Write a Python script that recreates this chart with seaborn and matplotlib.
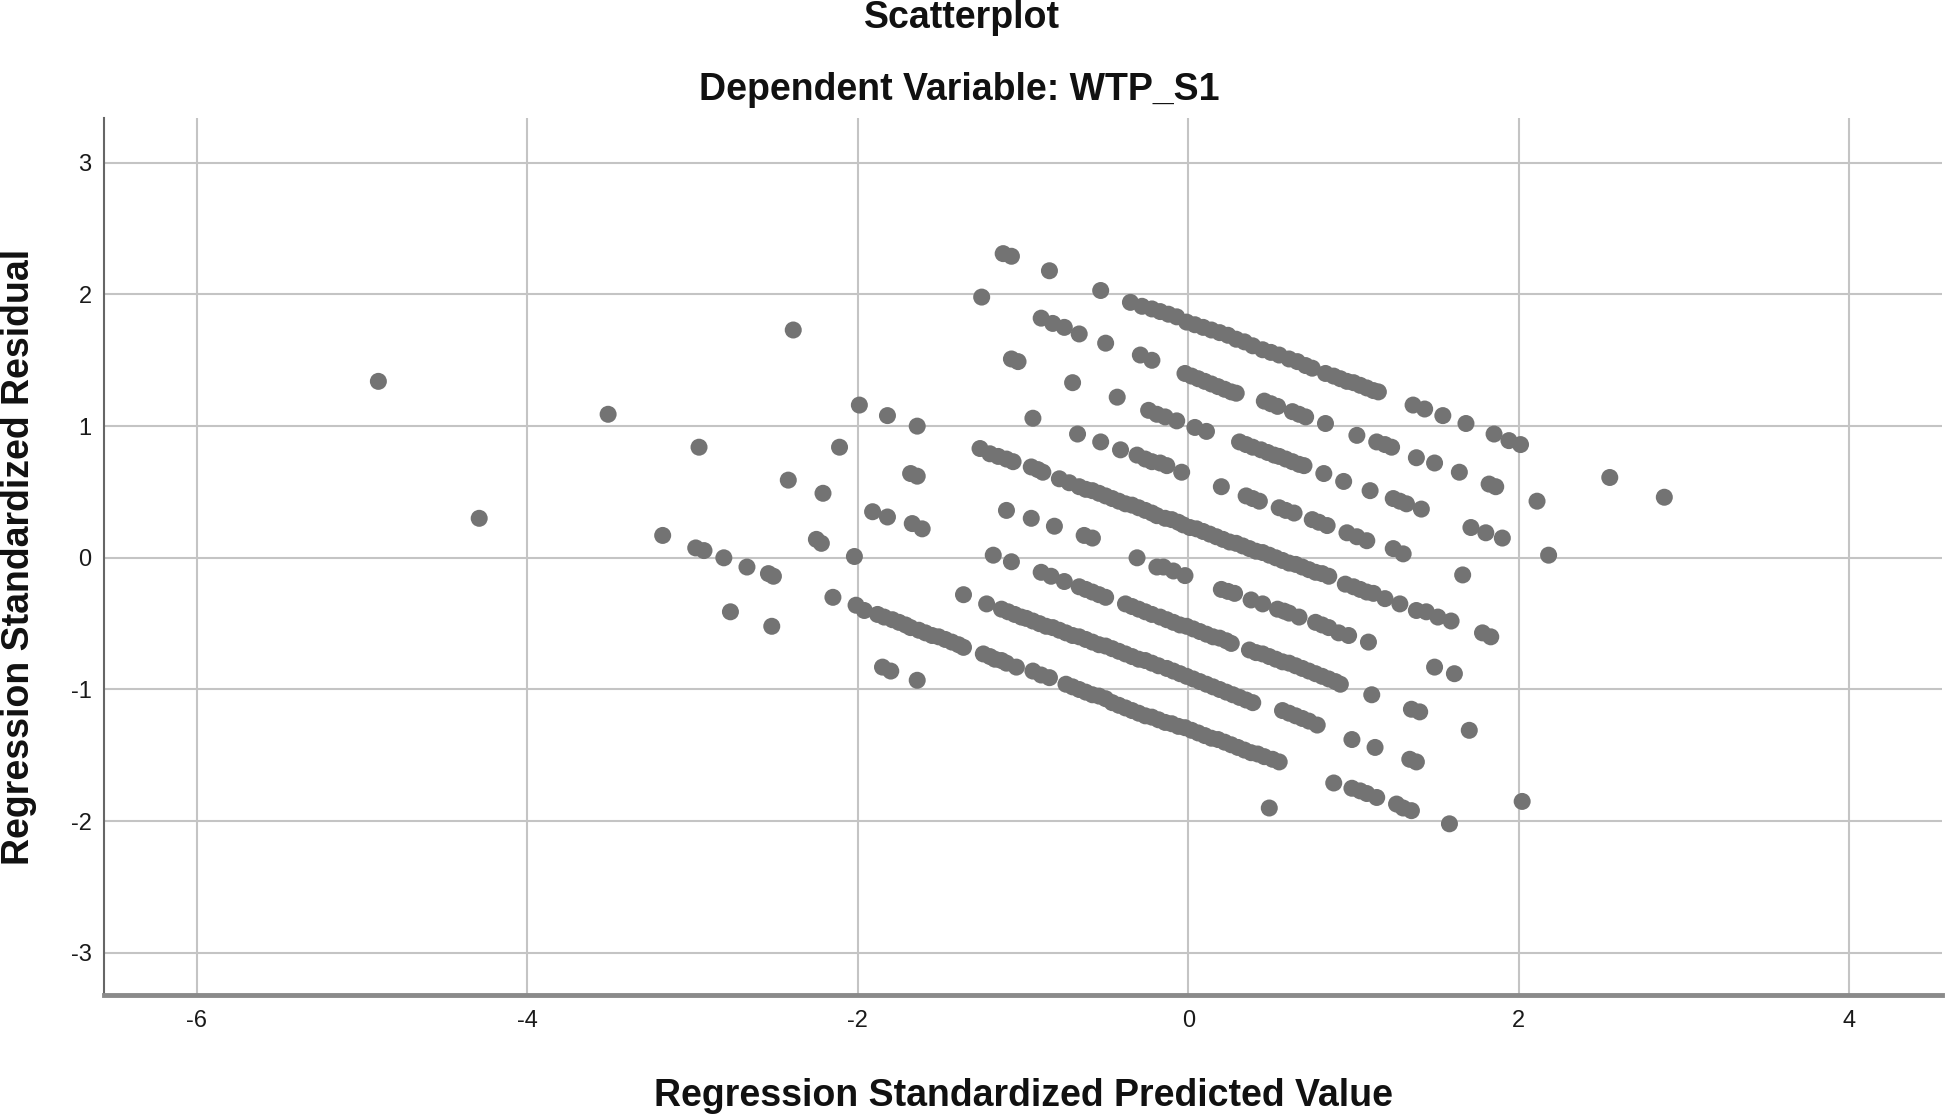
import matplotlib
matplotlib.use("Agg")
import matplotlib.pyplot as plt
import seaborn as sns
import pandas as pd

# ---- data: (standardized predicted value, standardized residual), grouped by diagonal band ----
band_1 = [(-1.12, 2.31), (-1.07, 2.29), (-0.84, 2.18), (-0.53, 2.03), (-0.35, 1.94), (-0.28, 1.91),
          (-0.22, 1.89), (-0.17, 1.87), (-0.12, 1.85), (-0.07, 1.83), (-0.01, 1.79), (0.04, 1.77),
          (0.09, 1.75), (0.14, 1.73), (0.19, 1.71), (0.24, 1.69), (0.29, 1.66), (0.34, 1.64),
          (0.39, 1.61), (0.45, 1.58), (0.50, 1.56), (0.55, 1.54), (0.61, 1.51), (0.66, 1.49),
          (0.71, 1.46), (0.75, 1.44), (0.83, 1.40), (0.88, 1.38), (0.92, 1.36), (0.96, 1.34),
          (1.00, 1.33), (1.04, 1.31), (1.08, 1.29), (1.12, 1.27), (1.15, 1.26), (1.36, 1.16),
          (1.43, 1.13), (1.54, 1.08), (1.68, 1.02), (1.85, 0.94), (1.94, 0.89), (2.01, 0.86),
          (2.55, 0.61), (2.88, 0.46)]
band_2 = [(-1.25, 1.98), (-0.89, 1.82), (-0.82, 1.78), (-0.75, 1.75), (-0.66, 1.70), (-0.50, 1.63),
          (-0.29, 1.54), (-0.22, 1.50), (-0.02, 1.40), (0.02, 1.38), (0.06, 1.36), (0.10, 1.34),
          (0.14, 1.32), (0.18, 1.30), (0.22, 1.28), (0.26, 1.26), (0.29, 1.25), (0.46, 1.19),
          (0.50, 1.17), (0.54, 1.15), (0.63, 1.11), (0.67, 1.09), (0.71, 1.07), (0.83, 1.02),
          (1.02, 0.93), (1.14, 0.88), (1.19, 0.86), (1.23, 0.84), (1.38, 0.76), (1.49, 0.72),
          (1.64, 0.65), (1.82, 0.56), (1.86, 0.54), (2.11, 0.43)]
band_3 = [(-1.07, 1.51), (-1.03, 1.49), (-0.70, 1.33), (-0.43, 1.22), (-0.24, 1.12), (-0.19, 1.09),
          (-0.14, 1.07), (-0.07, 1.04), (0.04, 0.99), (0.11, 0.96), (0.31, 0.88), (0.35, 0.86),
          (0.39, 0.84), (0.44, 0.82), (0.48, 0.80), (0.52, 0.78), (0.55, 0.77), (0.59, 0.75),
          (0.63, 0.73), (0.67, 0.71), (0.70, 0.70), (0.82, 0.64), (0.94, 0.58), (1.10, 0.51),
          (1.24, 0.45), (1.28, 0.43), (1.32, 0.41), (1.41, 0.37), (1.71, 0.23), (1.80, 0.19),
          (1.90, 0.15), (2.18, 0.02)]
band_4 = [(-2.39, 1.73), (-0.94, 1.06), (-0.67, 0.94), (-0.53, 0.88), (-0.41, 0.82), (-0.31, 0.78),
          (-0.26, 0.75), (-0.22, 0.73), (-0.17, 0.72), (-0.13, 0.70), (-0.04, 0.65), (0.20, 0.54),
          (0.35, 0.47), (0.39, 0.45), (0.43, 0.43), (0.55, 0.38), (0.59, 0.36), (0.64, 0.34),
          (0.75, 0.29), (0.79, 0.27), (0.84, 0.245), (0.96, 0.19), (1.02, 0.16), (1.08, 0.13),
          (1.24, 0.07), (1.30, 0.03), (1.66, -0.13)]
band_5 = [(-1.99, 1.16), (-1.82, 1.08), (-1.64, 1.00), (-1.26, 0.83), (-1.20, 0.79), (-1.15, 0.77),
          (-1.10, 0.75), (-1.06, 0.73), (-0.95, 0.69), (-0.91, 0.67), (-0.88, 0.65), (-0.78, 0.60),
          (-0.72, 0.57), (-0.66, 0.54), (-0.62, 0.52), (-0.58, 0.51), (-0.54, 0.49), (-0.50, 0.47),
          (-0.46, 0.45), (-0.42, 0.43), (-0.38, 0.41), (-0.34, 0.40), (-0.30, 0.38), (-0.26, 0.36),
          (-0.22, 0.34), (-0.19, 0.32), (-0.14, 0.30), (-0.10, 0.29), (-0.06, 0.27), (-0.03, 0.25),
          (0.01, 0.23), (0.05, 0.22), (0.09, 0.20), (0.13, 0.18), (0.17, 0.16), (0.21, 0.14),
          (0.25, 0.12), (0.29, 0.11), (0.33, 0.09), (0.37, 0.07), (0.41, 0.05), (0.45, 0.04),
          (0.49, 0.02), (0.53, 0.00), (0.57, -0.02), (0.61, -0.04), (0.65, -0.05), (0.69, -0.07),
          (0.73, -0.09), (0.77, -0.11), (0.81, -0.12), (0.85, -0.14), (0.95, -0.20), (1.00, -0.22),
          (1.04, -0.24), (1.08, -0.26), (1.12, -0.27), (1.19, -0.31), (1.28, -0.35), (1.38, -0.40),
          (1.44, -0.41), (1.51, -0.45), (1.59, -0.48), (1.78, -0.57), (1.83, -0.60)]
band_6 = [(-2.11, 0.84), (-1.68, 0.64), (-1.64, 0.62), (-1.10, 0.36), (-0.95, 0.30), (-0.81, 0.24),
          (-0.63, 0.17), (-0.58, 0.15), (-0.31, 0.00), (-0.19, -0.07), (-0.15, -0.07), (-0.09, -0.10),
          (-0.02, -0.135), (0.20, -0.24), (0.24, -0.255), (0.28, -0.27), (0.38, -0.32), (0.45, -0.35),
          (0.54, -0.39), (0.58, -0.405), (0.61, -0.42), (0.67, -0.45), (0.77, -0.49), (0.81, -0.51),
          (0.85, -0.53), (0.91, -0.57), (0.97, -0.59), (1.09, -0.64), (1.49, -0.83), (1.61, -0.88)]
band_7 = [(-3.51, 1.09), (-2.96, 0.84), (-2.42, 0.59), (-2.21, 0.49), (-1.91, 0.35), (-1.82, 0.31),
          (-1.67, 0.26), (-1.61, 0.22), (-1.18, 0.02), (-1.07, -0.03), (-0.89, -0.11), (-0.83, -0.14),
          (-0.75, -0.18), (-0.66, -0.22), (-0.62, -0.24), (-0.58, -0.26), (-0.54, -0.28), (-0.50, -0.30),
          (-0.38, -0.35), (-0.34, -0.37), (-0.30, -0.39), (-0.26, -0.41), (-0.22, -0.43), (-0.17, -0.45),
          (-0.13, -0.47), (-0.09, -0.49), (-0.05, -0.51), (-0.01, -0.52), (0.03, -0.54), (0.07, -0.56),
          (0.11, -0.58), (0.15, -0.60), (0.19, -0.61), (0.23, -0.63), (0.26, -0.65), (0.37, -0.70),
          (0.41, -0.72), (0.45, -0.73), (0.49, -0.75), (0.53, -0.77), (0.57, -0.79), (0.61, -0.80),
          (0.65, -0.82), (0.69, -0.84), (0.73, -0.86), (0.77, -0.88), (0.81, -0.90), (0.85, -0.92),
          (0.89, -0.94), (0.92, -0.96), (1.11, -1.04), (1.35, -1.15), (1.40, -1.17), (1.70, -1.31)]
band_8 = [(-4.90, 1.34), (-2.25, 0.14), (-2.22, 0.11), (-2.02, 0.01), (-1.36, -0.28), (-1.22, -0.35),
          (-1.13, -0.39), (-1.09, -0.41), (-1.05, -0.43), (-1.01, -0.45), (-0.98, -0.46), (-0.94, -0.48),
          (-0.90, -0.50), (-0.86, -0.52), (-0.82, -0.53), (-0.78, -0.55), (-0.74, -0.57), (-0.70, -0.59),
          (-0.66, -0.60), (-0.62, -0.62), (-0.58, -0.64), (-0.54, -0.66), (-0.50, -0.67), (-0.46, -0.69),
          (-0.42, -0.71), (-0.38, -0.73), (-0.34, -0.75), (-0.30, -0.77), (-0.26, -0.78), (-0.22, -0.80),
          (-0.18, -0.82), (-0.13, -0.84), (-0.09, -0.86), (-0.05, -0.88), (-0.01, -0.90), (0.03, -0.92),
          (0.07, -0.94), (0.11, -0.96), (0.15, -0.98), (0.19, -1.00), (0.23, -1.02), (0.27, -1.04),
          (0.31, -1.06), (0.35, -1.08), (0.39, -1.10), (0.57, -1.16), (0.61, -1.18), (0.65, -1.20),
          (0.69, -1.22), (0.73, -1.24), (0.78, -1.27), (0.99, -1.38), (1.13, -1.44), (1.34, -1.53),
          (1.38, -1.55), (2.02, -1.85)]
band_9 = [(-3.18, 0.17), (-2.98, 0.075), (-2.93, 0.055), (-2.81, 0.00), (-2.67, -0.07), (-2.54, -0.12),
          (-2.51, -0.14), (-2.15, -0.30), (-2.01, -0.36), (-1.96, -0.40), (-1.88, -0.43), (-1.84, -0.45),
          (-1.79, -0.47), (-1.75, -0.49), (-1.71, -0.51), (-1.68, -0.53), (-1.63, -0.55), (-1.59, -0.57),
          (-1.55, -0.59), (-1.51, -0.60), (-1.47, -0.62), (-1.43, -0.64), (-1.39, -0.66), (-1.36, -0.68),
          (-1.24, -0.73), (-1.20, -0.75), (-1.17, -0.77), (-1.13, -0.78), (-1.10, -0.80), (-1.04, -0.83),
          (-0.94, -0.86), (-0.89, -0.89), (-0.84, -0.91), (-0.74, -0.96), (-0.70, -0.98), (-0.66, -1.00),
          (-0.62, -1.02), (-0.58, -1.04), (-0.54, -1.05), (-0.50, -1.07), (-0.46, -1.10), (-0.42, -1.12),
          (-0.38, -1.14), (-0.34, -1.16), (-0.30, -1.18), (-0.26, -1.20), (-0.22, -1.21), (-0.18, -1.23),
          (-0.14, -1.25), (-0.10, -1.26), (-0.06, -1.28), (-0.02, -1.29), (0.02, -1.31), (0.06, -1.33),
          (0.10, -1.35), (0.14, -1.37), (0.18, -1.38), (0.22, -1.40), (0.26, -1.42), (0.30, -1.44),
          (0.34, -1.46), (0.38, -1.48), (0.42, -1.49), (0.46, -1.51), (0.51, -1.53), (0.55, -1.55),
          (0.88, -1.71), (0.99, -1.75), (1.04, -1.77), (1.08, -1.79), (1.14, -1.82), (1.26, -1.87),
          (1.30, -1.90), (1.35, -1.92), (1.58, -2.02)]
band_10 = [(-4.29, 0.30), (-2.77, -0.41), (-2.52, -0.52), (-1.85, -0.83), (-1.80, -0.86), (-1.64, -0.93),
           (0.49, -1.90)]

x_ticks = [-6, -4, -2, 0, 2, 4]
y_ticks = [-3, -2, -1, 0, 1, 2, 3]
title = "Scatterplot"
subtitle = "Dependent Variable: WTP_S1"
x_label = "Regression Standardized Predicted Value"
y_label = "Regression Standardized Residual"

bands = [band_1, band_2, band_3, band_4, band_5, band_6, band_7, band_8, band_9, band_10]
rows = [pt for b in bands for pt in b]
df = pd.DataFrame(rows, columns=["pred", "resid"])

sns.set_style("white")
plt.rcParams["font.family"] = ["Liberation Sans", "DejaVu Sans"]
plt.rcParams["axes.unicode_minus"] = False

W, H = 1946, 1116
fig = plt.figure(figsize=(W / 100, H / 100), dpi=100)
left, right, top, bottom = 104, 1942, 118, 995
ax = fig.add_axes([left / W, 1 - bottom / H, (right - left) / W, (bottom - top) / H])

sns.scatterplot(data=df, x="pred", y="resid", ax=ax, s=150, color="#737373",
                linewidth=0, edgecolor="none", zorder=3)

ax.set_xlim(-6.56, 4.56)
ax.set_ylim(-3.32, 3.34)
ax.set_xticks(x_ticks)
ax.set_yticks(y_ticks)
ax.set_xticklabels([str(v) for v in x_ticks])
ax.set_yticklabels([str(v) for v in y_ticks])
ax.grid(True, color="#c4c4c4", linewidth=1.5)
ax.set_axisbelow(True)
for s in ["top", "right"]:
    ax.spines[s].set_visible(False)
ax.spines["left"].set_color("#666666")
ax.spines["left"].set_linewidth(1.5)
ax.spines["bottom"].set_color("#8a8a8a")
ax.spines["bottom"].set_linewidth(3.5)
ax.tick_params(length=0, labelsize=17, colors="#1a1a1a")
ax.tick_params(axis="x", pad=11)
ax.tick_params(axis="y", pad=9)
ax.set_xlabel("")
ax.set_ylabel("")

fig.text(962 / W, 1 - 28 / H, title, ha="center", va="baseline", fontsize=27,
         fontweight="bold", color="#111111")
fig.text(959 / W, 1 - 100 / H, subtitle, ha="center", va="baseline", fontsize=27,
         fontweight="bold", color="#111111")
fig.text(1023 / W, 1 - 1106 / H, x_label, ha="center", va="baseline", fontsize=27,
         fontweight="bold", color="#111111")
fig.text(19 / W, 1 - 557 / H, y_label, ha="center", va="center", rotation=90, fontsize=27,
         fontweight="bold", color="#111111")

fig.savefig("out.png", dpi=100)
